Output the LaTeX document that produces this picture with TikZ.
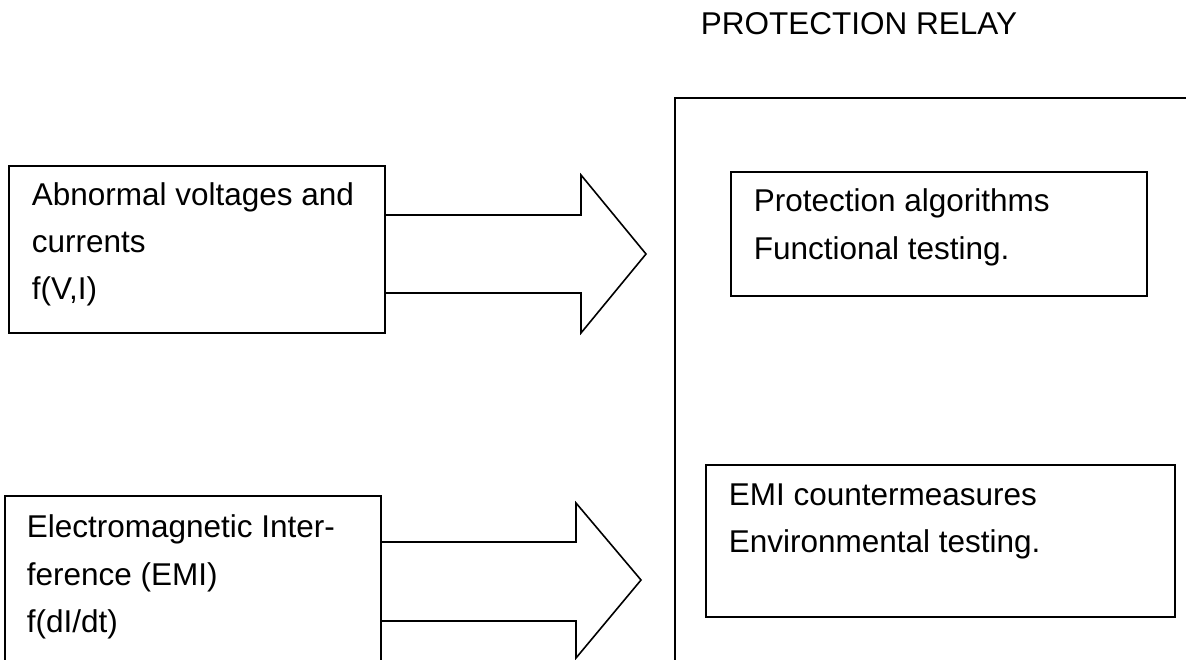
\documentclass[tikz,border=0pt]{standalone}
\usepackage{fontspec}
\setmainfont{Liberation Sans}
\begin{document}
\begin{tikzpicture}[x=1pt,y=-1pt,line width=1.6pt,line join=miter,
  box/.style={draw, rectangle, anchor=north west, inner sep=0pt, outer sep=0pt},
  txt/.style={anchor=base west, inner sep=0pt, font=\fontsize{31.5}{38}\selectfont}]
\useasboundingbox (0,0) rectangle (1186,660);
\clip (0,0) rectangle (1186,660);
% title
\node[txt] (title) at (700,35) {PROTECTION RELAY};
% relay outline (only left and top sides visible)
\coordinate (relTR) at (1190,98);
\coordinate (relTL) at (675,98);
\coordinate (relBL) at (675,665);
\draw (relTR) -- (relTL) -- (relBL);
% input boxes
\node[box, minimum width=376pt, minimum height=167pt] (b1) at (9,166) {};
\node[txt] (b1l1) at (31,206) {Abnormal voltages and};
\node[txt] (b1l2) at (31,253) {currents};
\node[txt] (b1l3) at (31,300) {f(V,I)};
\node[box, minimum width=376pt, minimum height=175pt] (b2) at (5,496) {};
\node[txt] (b2l1) at (26,537) {Electromagnetic Inter-};
\node[txt] (b2l2) at (26,585) {ference (EMI)};
\node[txt] (b2l3) at (26,632) {f(dI/dt)};
% inner boxes
\node[box, minimum width=416pt, minimum height=124pt] (pa) at (731,172) {};
\node[txt] (pal1) at (753,212) {Protection algorithms};
\node[txt] (pal2) at (753,260) {Functional testing.};
\node[box, minimum width=469pt, minimum height=152pt] (emi) at (706,465) {};
\node[txt] (emil1) at (728,505) {EMI countermeasures};
\node[txt] (emil2) at (728,552) {Environmental testing.};
% block arrows
\draw (b1.east |- 0,215) -- (581,215) -- (581,175) -- (646,254) -- (581,333) -- (581,293) -- (b1.east |- 0,293);
\draw (b2.east |- 0,542) -- (576,542) -- (576,503) -- (641,580) -- (576,658) -- (576,621) -- (b2.east |- 0,621);
\end{tikzpicture}
\end{document}
